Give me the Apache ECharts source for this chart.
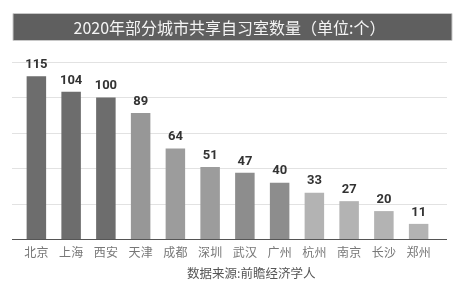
<!DOCTYPE html>
<html><head><meta charset="utf-8">
<script src="https://cdn.jsdelivr.net/npm/echarts@6/dist/echarts.min.js"></script>
<style>html,body{margin:0;padding:0;background:#fff}#c{width:459px;height:300px}</style>
</head><body><div id="c"></div>
<script>
const titleText = '2020年部分城市共享自习室数量（单位:个）';
const sourceText = '数据来源:前瞻经济学人';
const categories = ['北京','上海','西安','天津','成都','深圳','武汉','广州','杭州','南京','长沙','郑州'];
const values = [115,104,100,89,64,51,47,40,33,27,20,11];
const barColors = ['#6d6d6d','#6d6d6d','#6d6d6d','#979797','#9c9c9c','#9c9c9c','#8d8d8d','#8d8d8d','#b3b3b3','#b3b3b3','#b3b3b3','#b3b3b3'];
const yMax = 125, yInterval = 25;

const chart = echarts.init(document.getElementById('c'), null, {renderer:'canvas'});
const font = '"Noto Sans CJK SC", "Noto Sans", sans-serif';
chart.setOption({
  animation:false,
  backgroundColor:'#fff',
  title:{text:titleText, left:'center', top:15,
    textStyle:{color:'#f4f4f4', fontSize:16, fontWeight:'normal', fontFamily:font}},
  graphic:[
    {type:'rect', z:-1, shape:{x:13,y:13.5,width:439,height:27}, style:{fill:'#5f5f5f', stroke:'#c8c8c8', lineWidth:1}},
    {type:'text', left:187, top:267, style:{text:sourceText, fill:'#555', font:'12.5px "Noto Sans CJK SC", sans-serif'}}
  ],
  grid:[
    {left:12, right:12, top:62, bottom:60.5, containLabel:false},
    {left:19, width:417, top:62, bottom:60.5, containLabel:false}
  ],
  xAxis:[
    {type:'value', gridIndex:0, show:false, min:0, max:1},
    {type:'category', gridIndex:1, data:categories,
      axisLine:{show:false}, axisTick:{show:false},
      axisLabel:{color:'#777', fontSize:12, fontFamily:font, margin:7, interval:0}}
  ],
  yAxis:[
    {type:'value', gridIndex:0, min:0, max:yMax, interval:yInterval,
      axisLine:{show:false}, axisTick:{show:false}, axisLabel:{show:false},
      splitLine:{lineStyle:{color:'#e2e2e2', width:1}}},
    {type:'value', gridIndex:1, min:0, max:yMax, interval:yInterval, show:false, splitLine:{show:false}}
  ],
  series:[
    {type:'bar', xAxisIndex:1, yAxisIndex:1, barWidth:19.5,
      data: values.map((v,i)=>({value:v, itemStyle:{color:barColors[i]}})),
      label:{show:true, position:'top', distance:5, color:'#333', fontWeight:'bold', fontSize:13, fontFamily:'Roboto, "Noto Sans", sans-serif'}},
    {type:'line', xAxisIndex:0, yAxisIndex:0, data:[[0,0],[1,0]], symbol:'none', silent:true,
      lineStyle:{color:'#555', width:1.2}}
  ]
});
</script></body></html>
